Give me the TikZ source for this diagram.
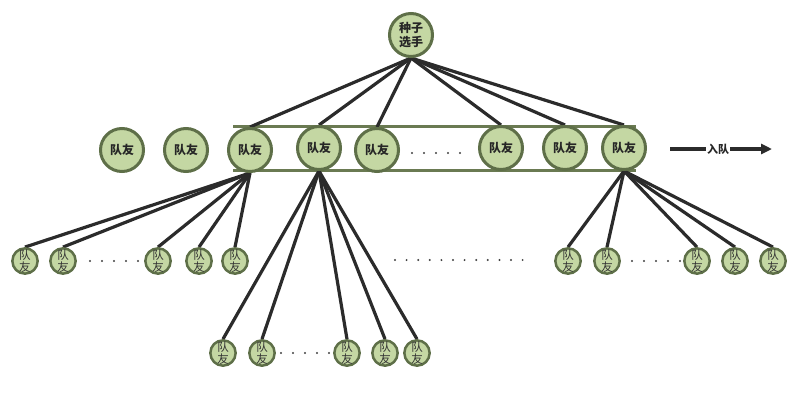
\documentclass[tikz,border=0pt]{standalone}
\usepackage{fontspec}
\setmainfont{Noto Sans CJK SC}
\usetikzlibrary{backgrounds,arrows.meta}
\definecolor{nodefill}{HTML}{C4D7A3}
\definecolor{nodeedge}{HTML}{5E6F48}
\definecolor{railc}{HTML}{6A7A52}
\definecolor{edgec}{HTML}{2B2B2B}
\tikzset{
  big/.style={circle,draw=nodeedge,fill=nodefill,line width=3pt,minimum size=43pt,inner sep=0pt,font=\fontsize{12pt}{13pt}\selectfont\bfseries,text=black!85},
  small/.style={circle,draw=nodeedge,fill=nodefill,line width=2.5pt,minimum size=25pt,inner sep=0pt,align=center,font=\fontsize{11.5pt}{12pt}\selectfont,text=black!80},
  link/.style={draw=edgec,line width=3.2pt},
  rail/.style={draw=railc,line width=3pt},
  dotc/.style={fill=black!75,draw=none}
}
\begin{document}
\begin{tikzpicture}[x=1pt,y=-1pt]
\useasboundingbox (0,0) rectangle (803,413);
% seed
\node[big,align=center,font=\fontsize{12pt}{13.5pt}\selectfont\bfseries] (seed) at (411,35) {种子\\选手};
% middle row
\node[big] (m1) at (122,150) {队友};
\node[big] (m2) at (186,150) {队友};
\node[big] (m3) at (250,150) {队友};
\node[big] (m4) at (319,148) {队友};
\node[big] (m5) at (377,150) {队友};
\node[big] (m6) at (501,148) {队友};
\node[big] (m7) at (565,148) {队友};
\node[big] (m8) at (624,148) {队友};
% dots middle row
\foreach \x in {412,424,436,448,460} \fill[dotc] (\x,153) circle (1.1);
% bottom row left
\node[small] (a1) at (25,261) {队\\友};
\node[small] (a2) at (63,261) {队\\友};
\node[small] (a3) at (158,261) {队\\友};
\node[small] (a4) at (199,261) {队\\友};
\node[small] (a5) at (235,261) {队\\友};
\foreach \x in {90,102,114,126,138} \fill[dotc] (\x,261) circle (1.1);
% bottom row right
\node[small] (c1) at (568,261) {队\\友};
\node[small] (c2) at (607,261) {队\\友};
\node[small] (c3) at (697,261) {队\\友};
\node[small] (c4) at (735,261) {队\\友};
\node[small] (c5) at (773,261) {队\\友};
\foreach \x in {632,644,656,668,680} \fill[dotc] (\x,261) circle (1.1);
% middle dots
\foreach \i in {0,...,11} \fill[dotc] ({395+\i*11.6},260) circle (1.1);
% second row
\node[small] (b1) at (223,353) {队\\友};
\node[small] (b2) at (262,353) {队\\友};
\node[small] (b3) at (347,353) {队\\友};
\node[small] (b4) at (385,353) {队\\友};
\node[small] (b5) at (417,353) {队\\友};
\foreach \x in {281,293,305,317,329} \fill[dotc] (\x,353) circle (1.1);
% arrow
\node[font=\fontsize{11pt}{12pt}\selectfont\bfseries,text=black!85,inner sep=1pt] (rq) at (718,149) {入队};
\coordinate (ra) at (670,149);
\coordinate (rb) at (772,149);
\draw[link] (ra) -- (rq.west);
\draw[link,-{Triangle[length=11pt,width=10pt]}] (rq.east) -- (rb);
\begin{scope}[on background layer]
  \coordinate (rtl) at (233,126);
  \coordinate (rtr) at (636,126);
  \coordinate (rbl) at (233,170);
  \coordinate (rbr) at (636,170);
  \draw[rail] (rtl) -- (rtr);
  \draw[rail] (rbl) -- (rbr);
  \foreach \m in {m3,m4,m5,m6,m7,m8} \draw[link] (seed.south) -- (\m.north);
  \foreach \m in {a1,a2,a3,a4,a5} \draw[link] (m3.south) -- (\m.north);
  \foreach \m in {b1,b2,b3,b4,b5} \draw[link] (m4.south) -- (\m.north);
  \foreach \m in {c1,c2,c3,c4,c5} \draw[link] (m8.south) -- (\m.north);
\end{scope}
\end{tikzpicture}
\end{document}
